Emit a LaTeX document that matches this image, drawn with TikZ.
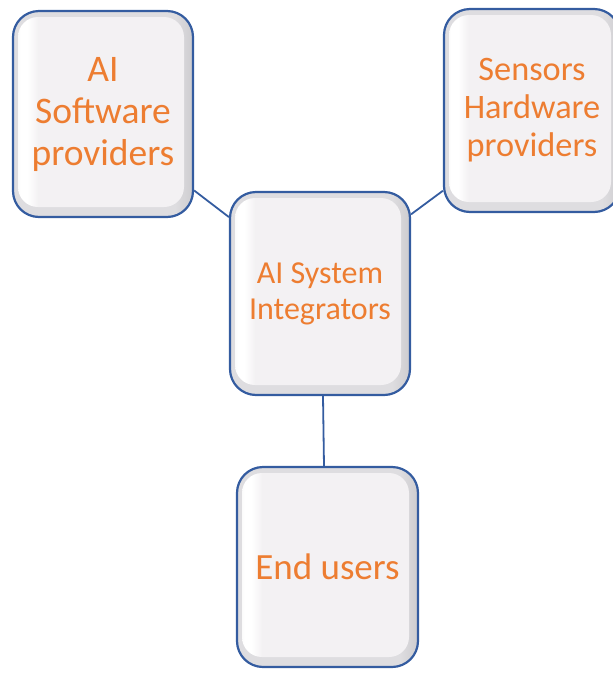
\documentclass[tikz,border=0pt]{standalone}
\usepackage{fontspec}
\setmainfont{Carlito}
\definecolor{bordercol}{RGB}{52,92,160}
\definecolor{innercol}{RGB}{243,241,243}
\definecolor{ringcol}{RGB}{222,221,224}
\definecolor{shadecol}{RGB}{205,204,207}
\definecolor{textcol}{RGB}{237,125,49}
\pgfdeclarehorizontalshading{bevel}{100bp}{color(0bp)=(innercol); color(25bp)=(innercol); color(27bp)=(white); color(29bp)=(white); color(32bp)=(innercol); color(100bp)=(innercol)}
\pgfdeclarehorizontalshading{ringshade}{100bp}{color(0bp)=(ringcol); color(25bp)=(ringcol); color(70bp)=(ringcol); color(75bp)=(shadecol); color(100bp)=(shadecol)}
\tikzset{
  boxnode/.style={draw=bordercol, line width=2.2pt, rounded corners=26pt,
    shading=ringshade, text=textcol, align=center, inner sep=0pt,
    path picture={
      \shade[shading=bevel, rounded corners=20pt]
        ([shift={(5pt,-6pt)}]path picture bounding box.north west) rectangle
        ([shift={(-9pt,10pt)}]path picture bounding box.south east);
    }},
  link/.style={draw=bordercol, line width=1.8pt}
}
\begin{document}
\begin{tikzpicture}[x=1pt,y=-1pt]
\useasboundingbox (0,0) rectangle (613,673);
\node[boxnode, minimum width=180pt, minimum height=206pt,
  font=\fontsize{37.5}{42}\selectfont] (b1) at (103,114) {AI\\Software\\providers};
\node[boxnode, minimum width=176pt, minimum height=203pt,
  font=\fontsize{34.3}{38}\selectfont] (b2) at (532,110.5) {Sensors\\Hardware\\providers};
\node[boxnode, minimum width=180pt, minimum height=203pt,
  font=\fontsize{32}{36}\selectfont] (b3) at (320,293.5) {AI System\\Integrators};
\node[boxnode, minimum width=181pt, minimum height=200pt,
  font=\fontsize{37}{42}\selectfont] (b4) at (327.5,567) {End users};
\draw[link] (b1.-40) -- (b3.140);
\draw[link] (b2.-138) -- (b3.41);
\draw[link] ([xshift=3pt]b3.south) -- ([xshift=-3.5pt]b4.north);
\end{tikzpicture}
\end{document}
